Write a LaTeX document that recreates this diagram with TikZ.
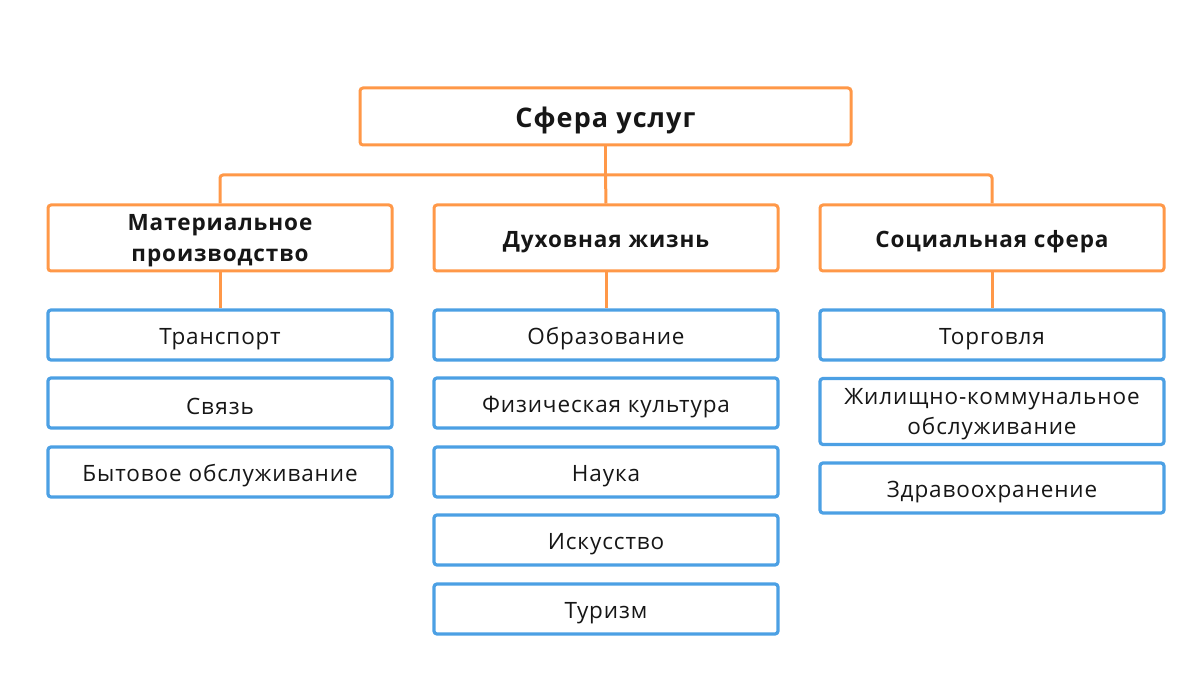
\documentclass[tikz,border=0pt]{standalone}
\usepackage{fontspec}
\setmainfont{Open Sans}[LetterSpace=4]
\definecolor{orng}{RGB}{255,152,72}
\definecolor{blu}{RGB}{76,160,228}
\definecolor{txt}{RGB}{22,22,22}
\newcommand{\lowstrut}{\rule{0pt}{1.05em}}
\begin{document}
\begin{tikzpicture}[x=1pt,y=-1pt,
  tbox/.style={draw=orng,line width=3pt,rounded corners=3pt,minimum width=491pt,minimum height=57pt,inner sep=0pt,text=txt,font=\bfseries\fontsize{27}{30}\selectfont,execute at begin node=\lowstrut},
  obox/.style={draw=orng,line width=3pt,rounded corners=3pt,minimum width=344pt,minimum height=66pt,align=center,text=txt,font=\bfseries\fontsize{22.5}{31}\selectfont,inner sep=0pt,execute at begin node=\lowstrut},
  bbox/.style={draw=blu,line width=3.2pt,rounded corners=3pt,minimum width=344pt,minimum height=50pt,align=center,text=txt,font=\fontsize{22.5}{30}\selectfont,inner sep=0pt,execute at begin node=\lowstrut},
  twoline/.style={text depth=0pt},
  conn/.style={draw=orng,line width=3pt}]
\useasboundingbox (0,0) rectangle (1200,692);
\node[tbox] (top) at (605.5,116.5) {Сфера услуг};
\node[obox,twoline] (m) at (220,238) {Материальное\\производство};
\node[obox] (d) at (606,238) {Духовная жизнь};
\node[obox] (s) at (992,238) {Социальная сфера};
\coordinate (j) at (605.5,175);
\coordinate (jl) at (220,175);
\coordinate (jr) at (992,175);
\draw[conn] (top.south) -- (j);
\draw[conn,rounded corners=3pt] (m.north) -- (jl) -- (jr) -- (s.north);
\draw[conn] (j) -- (d.north);
% left column
\node[bbox] (m1) at (220,335) {Транспорт};
\node[bbox] (m2) at (220,403) {Связь};
\node[bbox] (m3) at (220,472) {Бытовое обслуживание};
% middle column
\node[bbox] (d1) at (606,335) {Образование};
\node[bbox] (d2) at (606,403) {Физическая культура};
\node[bbox] (d3) at (606,472) {Наука};
\node[bbox] (d4) at (606,540) {Искусство};
\node[bbox] (d5) at (606,609) {Туризм};
% right column
\node[bbox] (s1) at (992,335) {Торговля};
\node[bbox,twoline,minimum height=66pt] (s2) at (992,411.5) {Жилищно-коммунальное\\обслуживание};
\node[bbox] (s3) at (992,488) {Здравоохранение};
\draw[conn] (m.south) -- (m1.north);
\draw[conn] (d.south) -- (d1.north);
\draw[conn] (s.south) -- (s1.north);
\end{tikzpicture}
\end{document}
